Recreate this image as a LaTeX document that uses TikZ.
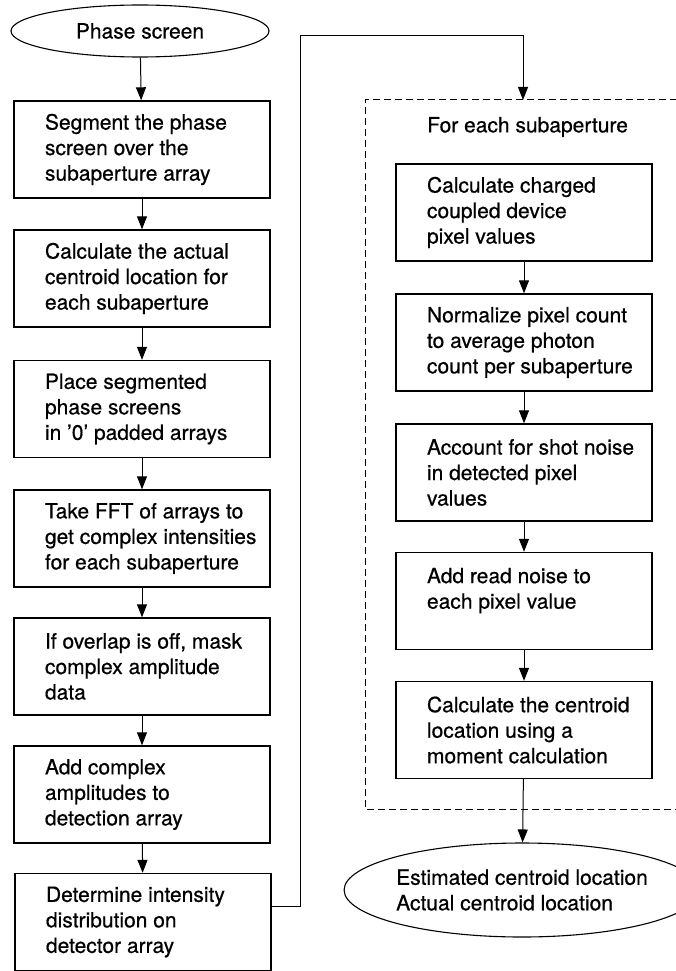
\documentclass[tikz,border=0pt]{standalone}
\usepackage{fontspec}
\setmainfont{TeX Gyre Heros}[FakeBold=0.6]
\usetikzlibrary{shapes.geometric,arrows.meta}
\newcommand\bxtext[1]{\hspace*{26pt}\parbox{220pt}{\raggedright #1}}
\begin{document}
\begin{tikzpicture}[x=1pt,y=-1pt,
  every node/.style={font=\fontsize{21}{25.5}\selectfont},
  stepbox/.style={draw,line width=1.4pt,minimum width=256pt,minimum height=97pt,inner xsep=5pt,inner ysep=0pt},
  oval/.style={draw,ellipse,line width=1.1pt,inner sep=0pt},
  conn/.style={line width=1pt,-{Triangle[length=13pt,width=10pt]}},
  line/.style={line width=1pt}]
\useasboundingbox (0,0) rectangle (675,971);
% left column
\node[oval,minimum width=258pt,minimum height=52pt] (E1) at (140,31) {Phase screen};
\node[stepbox] (L1) at (142,149.5) {\bxtext{Segment the phase\\screen over the\\subaperture array}};
\node[stepbox] (L2) at (142,278.5) {\bxtext{Calculate the actual\\centroid location for\\each subaperture}};
\node[stepbox] (L3) at (142,409) {\bxtext{Place segmented\\phase screens\\in '0' padded arrays}};
\node[stepbox] (L4) at (142,538.5) {\bxtext{Take FFT of arrays to\\get complex intensities\\for each subaperture}};
\node[stepbox] (L5) at (142,666.5) {\bxtext{If overlap is off, mask\\complex amplitude\\data}};
\node[stepbox] (L6) at (142,794.5) {\bxtext{Add complex\\amplitudes to\\detection array}};
\node[stepbox] (L7) at (143,922) {\bxtext{Determine intensity\\distribution on\\detector array}};
% right column
\draw[line width=1pt,dash pattern=on 7pt off 4pt] (677,100) -- (365,100) -- (365,809) -- (677,809);
\node[anchor=west,inner sep=0pt] (T) at (427,127) {For each subaperture};
\node[stepbox] (R1) at (524,212.5) {\bxtext{Calculate charged\\coupled device\\pixel values}};
\node[stepbox] (R2) at (524,342.5) {\bxtext{Normalize pixel count\\to average photon\\count per subaperture}};
\node[stepbox] (R3) at (524,472.5) {\bxtext{Account for shot noise\\in detected pixel\\values}};
\node[stepbox] (R4) at (524,601) {\bxtext{Add read noise to\\each pixel value\\\mbox{}}};
\node[stepbox] (R5) at (524,730) {\bxtext{Calculate the centroid\\location using a\\moment calculation}};
\node[oval,minimum width=306pt,minimum height=94pt,align=left] (E2) at (522,890) {Estimated centroid location\\Actual centroid location};
\coordinate (c1) at (300,36);
\coordinate (dtop) at (523,100);
% connectors
\draw[conn] (E1) -- (L1);
\draw[conn] (L1) -- (L2);
\draw[conn] (L2) -- (L3);
\draw[conn] (L3) -- (L4);
\draw[conn] (L4) -- (L5);
\draw[conn] (L5) -- (L6);
\draw[conn] (L6) -- (L7);
\draw[line] ([yshift=16pt]L7.east) -| (c1);
\draw[conn] (c1) -| (dtop);
\draw[conn] (R1) -- (R2);
\draw[conn] (R2) -- (R3);
\draw[conn] (R3) -- (R4);
\draw[conn] (R4) -- (R5);
\draw[conn] (R5) -- (E2);
\end{tikzpicture}
\end{document}
